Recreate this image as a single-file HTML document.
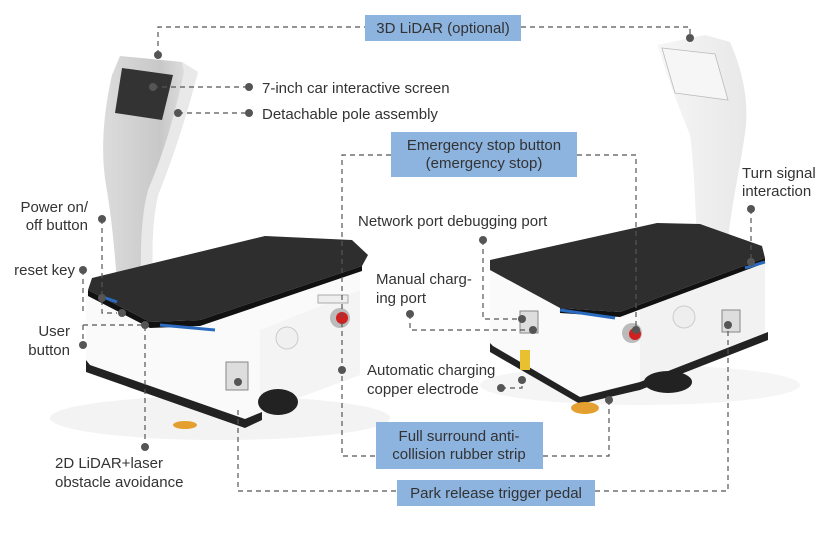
<!DOCTYPE html>
<html><head><meta charset="utf-8"><style>
html,body{margin:0;padding:0;background:#fff;}
svg{display:block;font-family:"Liberation Sans","Noto Sans CJK SC",sans-serif;}
</style></head><body>
<svg width="837" height="549" viewBox="0 0 837 549" xmlns="http://www.w3.org/2000/svg">
<defs>
<linearGradient id="pole" x1="0" x2="1"><stop offset="0" stop-color="#dcdcdc"/><stop offset="0.6" stop-color="#c8c8c8"/><stop offset="1" stop-color="#e8e8e8"/></linearGradient>
<linearGradient id="pole2" x1="0" x2="1"><stop offset="0" stop-color="#f6f6f6"/><stop offset="1" stop-color="#e8e8e8"/></linearGradient>
</defs>
<ellipse cx="220" cy="418" rx="170" ry="22" fill="#f3f3f3"/>
<ellipse cx="640" cy="385" rx="160" ry="20" fill="#f5f5f5"/>

<!-- LEFT ROBOT pole -->
<path d="M120,56 L182,62 L198,72 C188,110 176,150 158,195 C150,230 152,270 155,305 L118,305 C116,260 112,220 106,185 C100,150 104,110 112,75 Z" fill="url(#pole)"/>
<path d="M182,62 L198,72 C188,110 176,150 158,195 C150,230 152,270 155,305 L142,305 C140,260 140,220 148,190 C165,150 176,110 184,72Z" fill="#e9e9e9"/>
<path d="M122,68 L173,75 L162,120 L115,113 Z" fill="#333"/>
<!-- body -->
<path d="M86,292 L86,365 L245,420 L262,412 L360,375 L360,268 L200,322 Z" fill="#fafafa"/>
<path d="M260,330 L360,290 L360,375 L260,412 Z" fill="#f4f4f4"/>
<path d="M86,360 L86,372 L245,428 L262,420 L262,412 L245,419 L90,365Z" fill="#222"/>
<ellipse cx="278" cy="402" rx="20" ry="13" fill="#222"/>
<ellipse cx="185" cy="425" rx="12" ry="4" fill="#e3a030"/>
<!-- tray -->
<path d="M92,278 L265,236 L352,240 L368,255 L362,266 L200,320 L150,322 L88,290 Z" fill="#2e2e2e"/>
<path d="M88,290 L150,322 L200,320 L362,266 L362,271 L200,326 L150,328 L88,296Z" fill="#111"/>
<path d="M100,296 L117,302" stroke="#2a6bc0" stroke-width="3"/>
<path d="M160,325 L215,330" stroke="#2a6bc0" stroke-width="3"/>
<circle cx="287" cy="338" r="11" fill="#f0f0f0" stroke="#ccc"/>
<circle cx="340" cy="318" r="10" fill="#bbb"/><circle cx="342" cy="318" r="6" fill="#d02020"/>
<rect x="226" y="362" width="22" height="28" fill="#ddd" stroke="#888"/>
<rect x="318" y="295" width="30" height="8" fill="#eee" stroke="#aaa"/>

<!-- RIGHT ROBOT -->
<path d="M657,45 L705,35 L730,42 C742,70 748,95 746,125 C742,160 732,200 728,240 L697,240 C695,200 694,165 690,135 C680,110 668,80 660,52 Z" fill="url(#pole2)"/>
<path d="M662,48 L715,54 L728,100 L675,93 Z" fill="#f6f6f6" stroke="#bbb" stroke-width="0.8"/>
<path d="M490,270 L490,345 L580,398 L640,382 L765,335 L765,262 L620,313 L560,308 Z" fill="#fafafa"/>
<path d="M640,308 L765,262 L765,335 L640,382 Z" fill="#f2f2f2"/>
<path d="M490,343 L490,352 L580,404 L640,390 L768,340 L768,332 L640,382 L580,397 L493,346Z" fill="#222"/>
<ellipse cx="668" cy="382" rx="24" ry="11" fill="#222"/>
<ellipse cx="585" cy="408" rx="14" ry="6" fill="#e3a030"/>
<path d="M490,260 L657,223 L700,224 L762,246 L765,258 L620,312 L560,308 L490,270 Z" fill="#2e2e2e"/>
<path d="M560,308 L620,312 L765,258 L765,263 L620,317 L560,313Z" fill="#111"/>
<path d="M560,310 L615,318" stroke="#2a6bc0" stroke-width="3"/>
<path d="M745,268 L765,262" stroke="#2a6bc0" stroke-width="3"/>
<circle cx="684" cy="317" r="11" fill="#eee" stroke="#ccc"/>
<circle cx="632" cy="333" r="10" fill="#bbb"/><circle cx="635" cy="334" r="6" fill="#d02020"/>
<rect x="520" y="311" width="18" height="22" fill="#ddd" stroke="#888"/>
<rect x="520" y="350" width="10" height="20" fill="#e8c030"/>
<rect x="722" y="310" width="18" height="22" fill="#ddd" stroke="#888"/>

<!-- CONNECTORS -->
<g fill="none" stroke="#555" stroke-width="1.2" stroke-dasharray="5,4">
<path d="M158,55 V27 H365"/>
<path d="M521,27 H690 V38"/>
<path d="M153,87 H249"/>
<path d="M178,113 H249"/>
<path d="M391,155 H342 V456 H376"/>
<path d="M577,155 H636 V330"/>
<path d="M751,209 V262"/>
<path d="M483,240 V319 H522"/>
<path d="M410,314 V330 H533"/>
<path d="M501,388 H522 V380"/>
<path d="M543,456 H609 V400"/>
<path d="M238,410 V491 H397"/>
<path d="M595,491 H728 V325"/>
<path d="M102,219 V313 H117"/>
<path d="M83,270 V313"/>
<path d="M83,325 V345"/>
<path d="M83,325 H145 V447"/>
</g>
<g fill="#555">
<circle cx="158" cy="55" r="4"/><circle cx="690" cy="38" r="4"/>
<circle cx="153" cy="87" r="4"/><circle cx="249" cy="87" r="4"/>
<circle cx="178" cy="113" r="4"/><circle cx="249" cy="113" r="4"/>
<circle cx="636" cy="330" r="4"/><circle cx="342" cy="370" r="4"/>
<circle cx="751" cy="209" r="4"/><circle cx="751" cy="262" r="4"/>
<circle cx="483" cy="240" r="4"/><circle cx="522" cy="319" r="4"/>
<circle cx="410" cy="314" r="4"/><circle cx="533" cy="330" r="4"/>
<circle cx="501" cy="388" r="4"/><circle cx="522" cy="380" r="4"/>
<circle cx="609" cy="400" r="4"/><circle cx="238" cy="382" r="4"/>
<circle cx="728" cy="325" r="4"/><circle cx="102" cy="219" r="4"/>
<circle cx="83" cy="270" r="4"/><circle cx="83" cy="345" r="4"/>
<circle cx="102" cy="298" r="4"/><circle cx="122" cy="313" r="4"/>
<circle cx="145" cy="325" r="4"/><circle cx="145" cy="447" r="4"/>
</g>

<g fill="#8db3df">
<rect x="365" y="15" width="156" height="26"/>
<rect x="391" y="132" width="186" height="45"/>
<rect x="376" y="422" width="167" height="47"/>
<rect x="397" y="480" width="198" height="26"/>
</g>
<g fill="#333" font-size="15">
<text x="443" y="33" text-anchor="middle">3D LiDAR (optional)</text>
<text x="484" y="150" text-anchor="middle">Emergency stop button</text>
<text x="484" y="168" text-anchor="middle">(emergency stop)</text>
<text x="459" y="441" text-anchor="middle">Full surround anti-</text>
<text x="459" y="459" text-anchor="middle">collision rubber strip</text>
<text x="496" y="498" text-anchor="middle">Park release trigger pedal</text>
<text x="262" y="93">7-inch car interactive screen</text>
<text x="262" y="119">Detachable pole assembly</text>
<text x="742" y="178">Turn signal</text>
<text x="742" y="196">interaction</text>
<text x="358" y="226">Network port debugging port</text>
<text x="376" y="284">Manual charg-</text>
<text x="376" y="303">ing port</text>
<text x="367" y="375">Automatic charging</text>
<text x="367" y="394">copper electrode</text>
<text x="88" y="212" text-anchor="end">Power on/</text>
<text x="88" y="230" text-anchor="end">off button</text>
<text x="75" y="275" text-anchor="end">reset key</text>
<text x="70" y="336" text-anchor="end">User</text>
<text x="70" y="355" text-anchor="end">button</text>
<text x="55" y="468">2D LiDAR+laser</text>
<text x="55" y="487">obstacle avoidance</text>
</g>
</svg>
</body></html>
